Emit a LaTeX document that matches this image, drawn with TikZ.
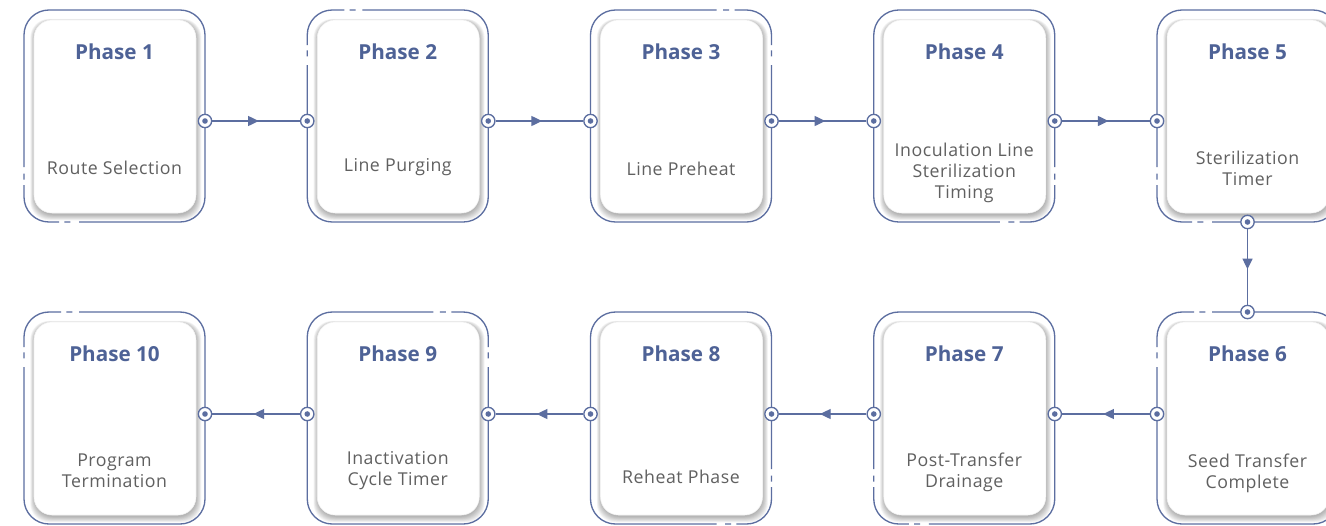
\documentclass[tikz,border=0pt]{standalone}
\usepackage{fontspec}
\setmainfont{Open Sans}
\usetikzlibrary{decorations.markings,arrows.meta}
\definecolor{fc}{RGB}{92,110,160}
\definecolor{tc}{RGB}{78,98,150}
\definecolor{dc}{RGB}{96,96,96}
\tikzset{
 frameline/.style={draw=fc, line width=1pt, rounded corners=18.75pt},
 framedash/.style={frameline, dash pattern=on 0pt off 5pt on 4.5pt off 4pt on 46pt off 4pt on 4.5pt off 6.25pt},
 card/.style={rectangle, fill=white, draw=black!5, line width=0.4pt, rounded corners=13.5pt, minimum width=121.5pt, minimum height=144.75pt, inner sep=0pt, outer sep=0pt},
 ptitle/.style={font=\fontsize{15.5}{18}\selectfont\bfseries, text=tc, inner sep=0pt},
 pdesc/.style={font=\fontsize{13.3}{15.9}\selectfont\addfontfeature{LetterSpace=3}, text=dc, align=center, inner sep=0pt},
 port/.style={circle, draw=fc, fill=white, line width=1pt, minimum size=10pt, inner sep=0pt,
   path picture={\fill[fc] (path picture bounding box.center) circle (2.1pt);}},
 flow/.style={color=fc, line width=1pt, postaction={decorate},
   decoration={markings, mark=at position 0.53 with {\arrow{Triangle[length=8pt,width=7.5pt]}}}},
}
\newcommand\phasebox[7]{%
 \pgfmathsetmacro\xa{#2}\pgfmathsetmacro\ya{#3}%
 \pgfmathsetmacro\xb{#2+181}\pgfmathsetmacro\yb{#3+212}%
 \ifcase#4\relax
 \or
  \draw[framedash] (\xa,\yb-55) -- (\xa,\yb) -- (\xa+55,\yb);
  \draw[frameline] (\xa+55,\yb) -- (\xb,\yb) -- (\xb,\ya) -- (\xa,\ya) -- (\xa,\yb-55);
 \or
  \draw[framedash] (\xa+55,\ya) -- (\xa,\ya) -- (\xa,\ya+55);
  \draw[frameline] (\xa,\ya+55) -- (\xa,\yb) -- (\xb,\yb) -- (\xb,\ya) -- (\xa+55,\ya);
 \or
  \draw[framedash] (\xb-55,\ya) -- (\xb,\ya) -- (\xb,\ya+55);
  \draw[frameline] (\xb,\ya+55) -- (\xb,\yb) -- (\xa,\yb) -- (\xa,\ya) -- (\xb-55,\ya);
 \or
  \draw[framedash] (\xb,\yb-55) -- (\xb,\yb) -- (\xb-55,\yb);
  \draw[frameline] (\xb-55,\yb) -- (\xa,\yb) -- (\xa,\ya) -- (\xb,\ya) -- (\xb,\yb-55);
 \fi
 \foreach \k in {0,...,7}{%
   \fill[black,opacity=0.04,rounded corners=14pt] (\xa+10.5-\k*0.6,\ya+11-\k*0.3) rectangle (\xb-8.5+\k*0.7,\yb-7+\k*0.75);}
 \node[card] (card#1) at (\xa+91,\ya+106.5) {};
 \node[ptitle] (title#1) at (\xa+90.5,\ya+41.5) {#5};
 \node[pdesc] (desc#1) at (\xa+90.5,#6) {#7};
}
\begin{document}
\begin{tikzpicture}[x=0.75pt,y=-0.75pt]
\path[use as bounding box] (0,0) rectangle (1326,525);
\clip (0,0) rectangle (1326,525);
\fill[white] (0,0) rectangle (1326,525);
% top row
\phasebox{1}{24}{10}{1}{Phase 1}{168}{Route Selection}
\phasebox{2}{307.25}{10}{2}{Phase 2}{167}{Line Purging}
\phasebox{3}{590.5}{10}{3}{Phase 3}{169}{Line Preheat}
\phasebox{4}{873.75}{10}{4}{Phase 4}{173}{Inoculation Line\\Sterilization\\Timing}
\phasebox{5}{1157}{10}{1}{Phase 5}{168}{Sterilization\\Timer}
% bottom row
\phasebox{10}{24}{312}{2}{Phase 10}{470.5}{Program\\Termination}
\phasebox{9}{307.25}{312}{3}{Phase 9}{470.5}{Inactivation\\Cycle Timer}
\phasebox{8}{590.5}{312}{4}{Phase 8}{477}{Reheat Phase}
\phasebox{7}{873.75}{312}{1}{Phase 7}{472.5}{Post-Transfer\\Drainage}
\phasebox{6}{1157}{312}{2}{Phase 6}{473.5}{Seed Transfer\\Complete}
% ports
\node[port] (p1r) at (205,121) {};
\node[port] (p2l) at (307.25,121) {};
\node[port] (p2r) at (488.25,121) {};
\node[port] (p3l) at (590.5,121) {};
\node[port] (p3r) at (771.5,121) {};
\node[port] (p4l) at (873.75,121) {};
\node[port] (p4r) at (1054.75,121) {};
\node[port] (p5l) at (1157,121) {};
\node[port] (p5b) at (1247.5,222) {};
\node[port] (p6t) at (1247.5,312) {};
\node[port] (p6l) at (1157,414) {};
\node[port] (p7r) at (1054.75,414) {};
\node[port] (p7l) at (873.75,414) {};
\node[port] (p8r) at (771.5,414) {};
\node[port] (p8l) at (590.5,414) {};
\node[port] (p9r) at (488.25,414) {};
\node[port] (p9l) at (307.25,414) {};
\node[port] (p10r) at (205,414) {};
% connectors
\draw[flow] (p1r) -- (p2l);
\draw[flow] (p2r) -- (p3l);
\draw[flow] (p3r) -- (p4l);
\draw[flow] (p4r) -- (p5l);
\draw[flow] (p5b) -- (p6t);
\draw[flow] (p6l) -- (p7r);
\draw[flow] (p7l) -- (p8r);
\draw[flow] (p8l) -- (p9r);
\draw[flow] (p9l) -- (p10r);
\end{tikzpicture}
\end{document}
